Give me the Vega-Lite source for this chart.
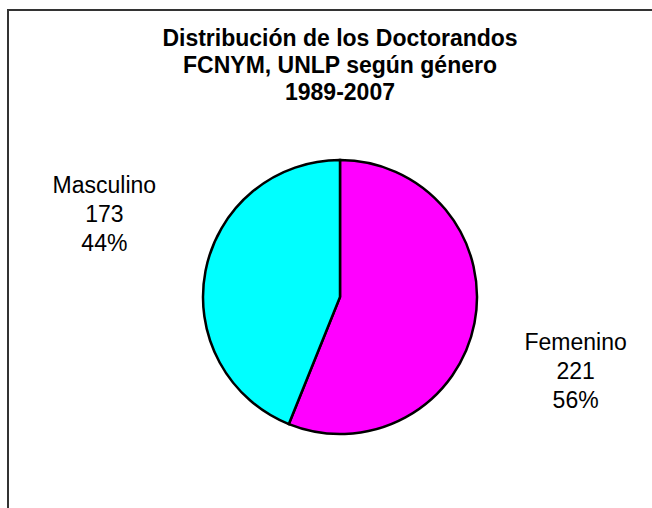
{
  "$schema": "https://vega.github.io/schema/vega-lite/v6.json",
  "autosize": {"type": "none"},
  "padding": {"left": 8, "top": 10, "right": 0, "bottom": 0},
  "width": 664,
  "height": 574,
  "background": "white",
  "view": {"stroke": "#333333", "strokeWidth": 2, "fill": "white"},
  "config": {
    "font": "Liberation Sans"
  },
  "title": {
    "text": ["Distribución de los Doctorandos", "FCNYM, UNLP según género", "1989-2007"],
    "font": "Liberation Sans",
    "fontSize": 23,
    "fontWeight": "bold",
    "color": "black",
    "lineHeight": 27,
    "anchor": "middle",
    "baseline": "alphabetic",
    "offset": -113
  },
  "data": {
    "values": [
      {"genero": "Femenino", "n": 221, "label": "Femenino\n221\n56%"},
      {"genero": "Masculino", "n": 173, "label": "Masculino\n173\n44%"}
    ]
  },
  "encoding": {
    "theta": {"field": "n", "type": "quantitative", "stack": true},
    "order": {"field": "genero", "type": "nominal", "sort": "ascending"}
  },
  "layer": [
    {
      "mark": {"type": "arc", "outerRadius": 137, "stroke": "black", "strokeWidth": 2.5},
      "encoding": {
        "color": {
          "field": "genero",
          "type": "nominal",
          "scale": {"domain": ["Femenino", "Masculino"], "range": ["#ff00ff", "#00ffff"]},
          "legend": null
        }
      }
    },
    {
      "mark": {"type": "text", "radius": 240, "dy": -65, "lineBreak": "\n", "fontSize": 23, "lineHeight": 29, "align": "center", "baseline": "middle", "color": "black"},
      "encoding": {
        "detail": {"field": "genero", "type": "nominal"},
        "text": {"field": "label", "type": "nominal"},
        "opacity": {"condition": {"test": "datum.genero == 'Masculino'", "value": 1}, "value": 0}
      }
    },
    {
      "mark": {"type": "text", "radius": 240, "dy": 0, "lineBreak": "\n", "fontSize": 23, "lineHeight": 29, "align": "center", "baseline": "middle", "color": "black"},
      "encoding": {
        "detail": {"field": "genero", "type": "nominal"},
        "text": {"field": "label", "type": "nominal"},
        "opacity": {"condition": {"test": "datum.genero == 'Femenino'", "value": 1}, "value": 0}
      }
    }
  ]
}
